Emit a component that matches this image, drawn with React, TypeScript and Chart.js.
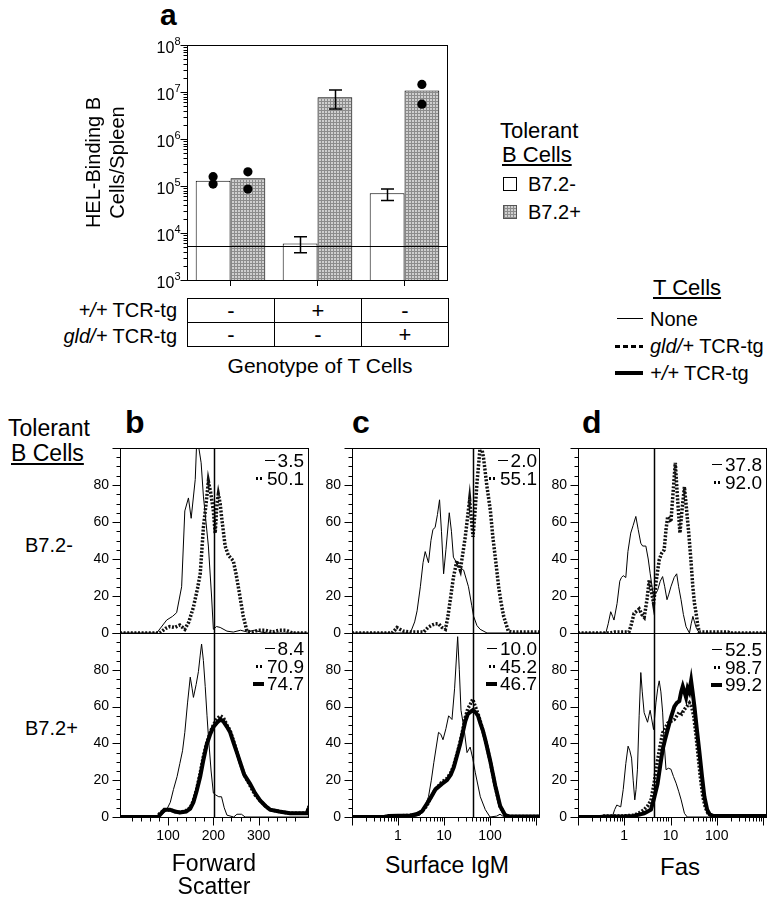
import React, { useEffect, useRef } from 'react';
import { Chart, registerables } from 'chart.js';

Chart.register(...registerables);

const FONT = "'Liberation Sans', Arial, Helvetica, sans-serif";

// ---------------- Panel a ----------------
const A_CATEGORIES = ['None', '+/+ TCR-tg', 'gld/+ TCR-tg'];
const A_SERIES_LABELS = ['B7.2-', 'B7.2+'];
const A_B72_NEG = [1.3e5, 6.0e3, 7.0e4];
const A_B72_POS = [1.46e5, 7.7e6, 1.07e7];
const A_NEG_ERR_LOW: (number | null)[] = [null, 3.8e3, 4.9e4];
const A_NEG_ERR_HIGH: (number | null)[] = [null, 8.3e3, 8.6e4];
const A_POS_ERR_LOW: (number | null)[] = [null, 4.35e6, null];
const A_POS_ERR_HIGH: (number | null)[] = [null, 1.1e7, null];
const A_NEG_DOTS: number[][] = [[1.58e5, 1.1e5], [], []];
const A_POS_DOTS: number[][] = [[2.0e5, 8.6e4], [], [1.45e7, 5.5e6]];
const A_BACKGROUND = 5.4e3;
const A_Y_MIN = 1e3;
const A_Y_MAX = 1e8;
const A_Y_TITLE = ['HEL-Binding B', 'Cells/Spleen'];

const TABLE_ROW_GENOTYPES = ['+/+', 'gld/+'];
const TABLE_ROWS = [
  ['-', '+', '-'],
  ['-', '-', '+'],
];

// ---------------- Histograms (x, % of max) ----------------
const FSC_NEG_NONE: [number, number][] = [[-6, 0], [75, 0], [97, 7], [110, 9], [119, 11], [130, 25], [137, 66], [145, 73], [151, 62], [160, 83], [163, 102], [168, 100], [173, 92], [178, 74], [189, 47], [196, 20], [200, 2], [207, 3.5], [215, 3], [230, 1], [244, 0.5], [260, 1.5], [275, 0.5], [290, 1.5], [305, 0.5], [320, 0], [411, 0]];
const FSC_NEG_GLD: [number, number][] = [[-6, 0], [82, 0], [95, 2.5], [104, 3.5], [115, 3], [126, 4.3], [137, 2], [146, 6], [156, 14], [165, 24], [171, 32], [178, 57], [184, 70], [189, 82], [194, 76], [200, 66], [204, 54], [208, 70], [211, 75], [215, 70], [218, 63], [226, 47], [233, 42], [244, 39], [250, 32], [255, 25], [266, 9], [274, 1], [285, 0.5], [300, 1.5], [315, 1.5], [330, 0.5], [345, 1.5], [360, 1.5], [375, 0], [411, 0]];
const FSC_POS_NONE: [number, number][] = [[-6, 0], [75, 0], [90, 2], [97, 4], [105, 8], [112, 15], [120, 22], [126, 29], [132, 36], [137, 46], [143, 62], [149, 76], [153, 70], [156, 65], [162, 72], [167, 79], [171, 88], [174, 94], [178, 85], [182, 71], [186, 55], [189, 44], [195, 25], [200, 13], [205, 12], [212, 11], [218, 11], [224, 5], [230, 1], [245, 0], [252, 1.5], [262, 1.5], [270, 0], [411, 0]];
const FSC_POS_GLD: [number, number][] = [[-6, 0], [75, 0], [82, 2], [90, 3.5], [104, 4], [115, 3], [126, 2.5], [140, 3.5], [149, 5], [156, 9], [163, 15], [171, 24], [178, 33], [185, 40], [193, 46], [200, 50], [207, 53], [215, 55], [222, 54], [230, 50], [237, 47], [245, 41], [252, 35], [260, 29], [268, 23], [281, 17], [292, 12], [303, 9], [315, 6], [325, 4], [345, 3], [369, 2], [390, 2], [406, 2], [411, 6]];
const FSC_POS_WT: [number, number][] = [[-6, 0], [78, 0], [85, 2], [92, 4], [104, 4], [115, 3], [126, 2.5], [140, 3], [149, 4.5], [156, 8], [163, 14], [171, 22], [178, 31], [185, 39], [193, 45], [200, 49], [207, 51], [215, 53], [222, 52], [230, 49], [237, 46], [245, 40], [252, 35], [260, 29], [268, 23], [281, 18], [292, 13], [303, 9], [315, 6], [325, 4], [345, 3], [369, 2], [390, 2], [406, 2], [411, 5]];

const IGM_NEG_NONE: [number, number][] = [[0.1, 0], [1.85, 0], [2.3, 6], [2.6, 12], [3.06, 25], [3.5, 38], [3.9, 44], [4.6, 38], [5.2, 50], [5.75, 56], [6.4, 57], [7.2, 64], [8.0, 72], [8.8, 55], [9.8, 32], [11, 45], [13, 65], [14.5, 55], [16, 41], [20.8, 36], [26.7, 34], [34, 25], [40, 15], [44, 9], [52, 4], [61, 2], [86, 0], [1220, 0]];
const IGM_NEG_GLD: [number, number][] = [[0.1, 0], [0.74, 0], [0.85, 1.5], [0.95, 3], [1.1, 2], [1.32, 1], [1.85, 0.5], [3.6, 0.5], [4.5, 3], [5.5, 4.3], [6.5, 5], [7.6, 5], [9, 3], [10.7, 2], [12, 8], [13.7, 18], [16, 30], [19, 39], [22.6, 34], [26, 44], [29, 52], [36, 72], [42.7, 52], [48, 68], [52, 81], [57, 92], [61.5, 102], [66, 100], [72, 95], [85, 80], [102, 66], [115, 52], [130, 41], [154, 25], [175, 16], [198, 9], [250, 1], [300, 0.5], [1220, 0.5]];
const IGM_POS_NONE: [number, number][] = [[0.1, 0], [2, 0], [3, 1], [3.6, 4], [4.6, 11], [5.3, 20], [6, 29.5], [7.6, 46], [8.5, 45], [9.5, 42], [11, 48], [12.6, 55], [14.9, 53], [17, 70], [19.8, 98], [21.5, 80], [23.4, 58], [27.6, 47], [31.6, 35], [37, 38], [42, 32], [48, 24], [61.5, 11], [79, 4], [100, 0], [140, 0.5], [165, 1.5], [190, 0.5], [250, 0], [1220, 0]];
const IGM_POS_GLD: [number, number][] = [[0.1, 0], [0.5, 0], [0.63, 0.5], [1, 0.7], [1.85, 0.8], [2.5, 1.5], [3.3, 3], [4.2, 6], [5, 10], [6.5, 15], [9, 19], [11.6, 21], [14, 24], [16.3, 28], [19, 34], [22.6, 41], [29, 54], [33, 59], [37, 61], [42, 64], [48, 60], [55, 56], [61.5, 52], [70, 47], [79, 42], [100, 31], [130, 16.5], [166, 5.6], [213, 1], [260, 0.3], [1220, 0.3]];
const IGM_POS_WT: [number, number][] = [[0.1, 0], [0.5, 0], [0.63, 0.5], [1, 0.7], [1.85, 0.8], [2.5, 1.5], [3.3, 3], [4.2, 7], [5, 10], [6.5, 15], [9, 18], [11.6, 20], [14, 23], [16.3, 27], [19, 33], [22.6, 40], [29, 52], [33, 56], [37, 57], [42, 58], [48, 57], [55, 55], [61.5, 51], [70, 47], [79, 42], [100, 31], [130, 17], [166, 6], [213, 1], [260, 0.3], [1220, 0.3]];

const FAS_NEG_NONE: [number, number][] = [[0.1, 0], [0.4, 0], [0.45, 5], [0.51, 11.5], [0.56, 9], [0.6, 7], [0.7, 16], [0.8, 28], [0.87, 30], [0.95, 31], [1.08, 30], [1.2, 44], [1.38, 54], [1.55, 58], [1.78, 63], [2.0, 56], [2.28, 48.5], [2.5, 47], [2.93, 47], [3.3, 40], [3.64, 32], [4.3, 19.6], [4.7, 21], [5.25, 23], [6.0, 28], [6.75, 30.5], [7.5, 25], [8.4, 18], [9.2, 21], [10.2, 25], [12, 30], [13.6, 32], [15, 25], [16.9, 18], [19, 10], [21.7, 3.4], [25.7, 0], [28, 5], [30.5, 9], [33, 6], [35.8, 3], [42, 0], [1220, 0]];
const FAS_NEG_GLD: [number, number][] = [[0.1, 0], [0.5, 0], [0.62, 0.5], [1.26, 0.5], [1.4, 4], [1.63, 10.6], [2.1, 13], [2.4, 10], [2.7, 8.5], [3.1, 18], [3.47, 28.6], [3.9, 22], [4.3, 16], [4.9, 28], [5.7, 39.5], [6.4, 43], [7.3, 45], [8.0, 56], [8.7, 63], [10.2, 60], [11.3, 75], [12.7, 92], [14, 75], [16, 54], [18, 68], [20, 79], [22, 68], [24.8, 54], [27.5, 40], [30.4, 25], [33, 16], [35.8, 10.6], [39, 4], [42, 0.5], [100, 0.5], [175, 0.5], [190, 0], [1220, 0]];
const FAS_POS_NONE: [number, number][] = [[0.1, 0], [0.55, 0], [0.62, 4], [0.69, 6.5], [0.76, 6], [0.84, 5.5], [0.95, 15], [1.08, 29], [1.21, 38.5], [1.32, 36], [1.44, 32], [1.56, 20], [1.69, 9.3], [1.8, 15], [1.93, 26], [2.1, 55], [2.28, 78.5], [2.45, 68], [2.69, 56.7], [3.19, 51.5], [3.4, 55], [3.63, 58], [4.3, 47.5], [4.84, 62], [5.3, 70], [5.7, 74], [6.2, 68], [6.76, 57], [7.3, 40], [8, 25.7], [9, 26.5], [10.2, 26], [11.6, 22], [13.2, 18.4], [15, 14], [17, 9.3], [20, 2], [23, 0], [1220, 0]];
const FAS_POS_GLD: [number, number][] = [[0.1, 0], [0.3, 0], [0.36, 0.5], [1.0, 0.6], [1.63, 1], [2.2, 2.5], [2.69, 4], [3.2, 6], [3.77, 9], [4.4, 18], [5.25, 31], [6.0, 39], [6.76, 45.7], [7.6, 48], [8.7, 51], [10.2, 52], [12.1, 53], [13.7, 55], [15.5, 57], [17.5, 56], [20, 58.5], [22.5, 60], [25.7, 62], [28.5, 60], [31.7, 55], [35, 46], [38.9, 35], [44, 22], [50, 11], [57, 5], [64.5, 2], [80, 0.6], [1220, 0.6]];
const FAS_POS_WT: [number, number][] = [[0.1, 0], [0.3, 0], [0.4, 0.3], [1.0, 0.4], [1.63, 0.6], [2.69, 2], [3.2, 3], [3.77, 4], [4.4, 10], [5.25, 18], [6.0, 28], [6.76, 36.6], [7.6, 42], [8.7, 47.5], [10.2, 54], [12.1, 60], [13.7, 62], [15.5, 63], [17, 68], [18.4, 71], [20, 68], [21.7, 65], [23.5, 70], [25.5, 68], [27.9, 74], [30, 68], [32.9, 60], [37, 48], [42.3, 35], [48, 22], [54, 11], [62, 4], [70, 1.5], [85, 0.5], [1220, 0.5]];

const FSC_NEG_PCT = ['3.5', '50.1'];
const FSC_POS_PCT = ['8.4', '70.9', '74.7'];
const IGM_NEG_PCT = ['2.0', '55.1'];
const IGM_POS_PCT = ['10.0', '45.2', '46.7'];
const FAS_NEG_PCT = ['37.8', '92.0'];
const FAS_POS_PCT = ['52.5', '98.7', '99.2'];

const FSC_GATE = 202;
const IGM_GATE = 43;
const FAS_GATE = 4.3;

const HIST_Y_LABELS = [0, 20, 40, 60, 80];
const FSC_X_LABELS = [100, 200, 300];
const LOG_X_LABELS = [1, 10, 100];

type LineStyle = 'none' | 'gld' | 'wt';

const LINE_STYLES: Record<LineStyle, any> = {
  none: { borderWidth: 1, borderColor: '#000', borderDash: [] },
  gld: { borderWidth: 3.5, borderColor: '#111', borderDash: [2, 1.6] },
  wt: { borderWidth: 4, borderColor: '#000', borderDash: [] },
};

const near = (a: number, b: number) => Math.abs(a - b) < 1e-6 * Math.max(1, Math.abs(b));
const isDecade = (v: number) => {
  const lg = Math.log10(v);
  return Math.abs(lg - Math.round(lg)) < 1e-6;
};
const isLogStep = (v: number) => {
  const s = v / Math.pow(10, Math.floor(Math.log10(v) + 1e-9));
  return Math.abs(s - Math.round(s)) < 1e-6;
};

function makePattern(): CanvasPattern | string {
  const c = document.createElement('canvas');
  c.width = 3;
  c.height = 3;
  const g = c.getContext('2d');
  if (!g) return '#aaa';
  g.fillStyle = '#cfcfcf';
  g.fillRect(0, 0, 3, 3);
  g.fillStyle = '#8c8c8c';
  g.fillRect(0, 0, 3, 1);
  g.fillRect(0, 0, 1, 3);
  const p = g.createPattern(c, 'repeat');
  return p || '#aaa';
}

function aConfig(): any {
  const pattern = makePattern();
  const decor = {
    id: 'aDecor',
    afterDatasetsDraw(chart: any) {
      const { ctx, chartArea: a, scales } = chart;
      const y = scales.y;
      ctx.save();
      ctx.strokeStyle = '#000';
      // background level line
      ctx.lineWidth = 1.2;
      const by = Math.round(y.getPixelForValue(A_BACKGROUND)) + 0.5;
      ctx.beginPath();
      ctx.moveTo(a.left, by);
      ctx.lineTo(a.right, by);
      ctx.stroke();
      // error bars
      const errs = [
        [A_NEG_ERR_LOW, A_NEG_ERR_HIGH],
        [A_POS_ERR_LOW, A_POS_ERR_HIGH],
      ];
      ctx.lineWidth = 1.5;
      errs.forEach(([lo, hi], di) => {
        const meta = chart.getDatasetMeta(di);
        lo.forEach((l, j) => {
          const h = hi[j];
          if (l == null || h == null) return;
          const cx = Math.round(meta.data[j].x) + 0.5;
          const yl = y.getPixelForValue(l);
          const yh = y.getPixelForValue(h);
          ctx.beginPath();
          ctx.moveTo(cx, yl);
          ctx.lineTo(cx, yh);
          ctx.moveTo(cx - 6.5, yl);
          ctx.lineTo(cx + 6.5, yl);
          ctx.moveTo(cx - 6.5, yh);
          ctx.lineTo(cx + 6.5, yh);
          ctx.stroke();
        });
      });
      // individual points
      ctx.fillStyle = '#000';
      [A_NEG_DOTS, A_POS_DOTS].forEach((dots, di) => {
        const meta = chart.getDatasetMeta(di);
        dots.forEach((vals, j) => {
          vals.forEach((v) => {
            ctx.beginPath();
            ctx.arc(meta.data[j].x, y.getPixelForValue(v), 4.6, 0, Math.PI * 2);
            ctx.fill();
          });
        });
      });
      ctx.restore();
    },
    afterDraw(chart: any) {
      const { ctx, chartArea: a, scales } = chart;
      const y = scales.y;
      ctx.save();
      ctx.strokeStyle = '#000';
      ctx.lineWidth = 1;
      const l = Math.round(a.left) + 0.5;
      const r = Math.round(a.right) - 0.5;
      const t = Math.round(a.top) + 0.5;
      const b = Math.round(a.bottom) + 0.5;
      ctx.strokeRect(l, t, r - l, b - t);
      ctx.fillStyle = '#000';
      y.ticks.forEach((tk: any) => {
        const v = tk.value;
        if (v < A_Y_MIN - 1e-9 || v > A_Y_MAX * (1 + 1e-9)) return;
        const major = isDecade(v);
        if (!major && !isLogStep(v)) return;
        const py = Math.round(y.getPixelForValue(v)) + 0.5;
        const len = major ? 7 : 4;
        ctx.beginPath();
        ctx.moveTo(l - len, py);
        ctx.lineTo(l, py);
        ctx.stroke();
        if (major) {
          const exp = String(Math.round(Math.log10(v)));
          ctx.textAlign = 'right';
          ctx.textBaseline = 'middle';
          ctx.font = `11px ${FONT}`;
          const ew = ctx.measureText(exp).width;
          const xr = l - 7;
          ctx.fillText(exp, xr, py - 4);
          ctx.font = `16px ${FONT}`;
          ctx.fillText('10', xr - ew, py + 3);
        }
      });
      ctx.restore();
    },
  };
  return {
    type: 'bar',
    data: {
      labels: A_CATEGORIES,
      datasets: [
        { label: A_SERIES_LABELS[0], data: A_B72_NEG, backgroundColor: '#fff', borderColor: '#000', borderWidth: 1, categoryPercentage: 0.8, barPercentage: 1 },
        { label: A_SERIES_LABELS[1], data: A_B72_POS, backgroundColor: pattern, borderColor: '#000', borderWidth: 1, categoryPercentage: 0.8, barPercentage: 1 },
      ],
    },
    options: {
      animation: false,
      responsive: false,
      events: [],
      layout: { padding: { top: 25, right: 12, bottom: 0, left: 0 } },
      plugins: { legend: { display: false }, tooltip: { enabled: false } },
      scales: {
        x: {
          grid: { display: true, drawOnChartArea: false, drawTicks: true, tickLength: 6, color: '#000', offset: false },
          border: { display: false },
          ticks: { display: false },
          afterFit: (s: any) => {
            s.height = 15;
            s.paddingLeft = 0;
            s.paddingRight = 0;
          },
        },
        y: {
          type: 'logarithmic',
          min: A_Y_MIN,
          max: A_Y_MAX,
          grid: { display: false },
          border: { display: false },
          ticks: { display: false },
          title: { display: true, text: A_Y_TITLE, color: '#000', font: { family: FONT, size: 20 }, padding: { top: 22, bottom: 0 } },
          afterFit: (s: any) => {
            s.width = 127;
            s.paddingTop = 0;
            s.paddingBottom = 0;
          },
        },
      },
    },
    plugins: [decor],
  };
}

type Series = { data: [number, number][]; style: LineStyle };

function histConfig(kind: 'fsc' | 'log', series: Series[], bottom: boolean, gate: number): any {
  const isLog = kind === 'log';
  const xMin = isLog ? 0.1 : -6;
  const xMax = isLog ? 1220 : 411;
  const xLabels = isLog ? LOG_X_LABELS : FSC_X_LABELS;
  const isMajorX = (v: number) => (isLog ? isDecade(v) : Math.abs(v % 100) < 1e-6);
  const isMinorX = (v: number) => (isLog ? isLogStep(v) : Math.abs(v % 20) < 1e-6);
  const decor = {
    id: 'histDecor',
    afterDatasetsDraw(chart: any) {
      const { ctx, chartArea: a, scales } = chart;
      const x = scales.x;
      const y = scales.y;
      ctx.save();
      ctx.strokeStyle = '#000';
      ctx.lineWidth = 1;
      const l = Math.round(a.left) + 0.5;
      const r = Math.round(a.right) - 0.5;
      const t = Math.round(a.top) + 0.5;
      const b = Math.round(a.bottom) + 0.5;
      ctx.strokeRect(l, t, r - l, b - t);
      // gate line
      ctx.lineWidth = 1.5;
      const gx = Math.round(x.getPixelForValue(gate)) + 0.5;
      ctx.beginPath();
      ctx.moveTo(gx, t);
      ctx.lineTo(gx, b);
      ctx.stroke();
      ctx.lineWidth = 1;
      // y ticks
      y.ticks.forEach((tk: any) => {
        const v = tk.value;
        if (Math.abs(v % 5) > 1e-6) return;
        const py = Math.round(y.getPixelForValue(v)) + 0.5;
        const len = Math.abs(v % 20) < 1e-6 ? 8 : 4;
        ctx.beginPath();
        ctx.moveTo(l - len, py);
        ctx.lineTo(l, py);
        ctx.stroke();
      });
      if (bottom) {
        x.ticks.forEach((tk: any) => {
          const v = tk.value;
          if (v < xMin - 1e-9 || v > xMax) return;
          let len = 0;
          if (isMajorX(v)) len = 8;
          else if (isMinorX(v)) len = 4;
          if (!len) return;
          const px = Math.round(x.getPixelForValue(v)) + 0.5;
          ctx.beginPath();
          ctx.moveTo(px, b);
          ctx.lineTo(px, b + len);
          ctx.stroke();
        });
      }
      ctx.restore();
    },
  };
  const xScale: any = {
    type: isLog ? 'logarithmic' : 'linear',
    min: xMin,
    max: xMax,
    display: bottom,
    grid: { display: false, drawTicks: false },
    border: { display: false },
    ticks: {
      autoSkip: false,
      maxRotation: 0,
      padding: 11,
      color: '#000',
      font: { family: FONT, size: 14 },
      callback: (v: number) => {
        const hit = xLabels.find((lv) => near(v, lv));
        return hit !== undefined ? String(hit) : '';
      },
    },
  };
  if (!isLog) xScale.ticks.stepSize = 20;
  if (bottom) {
    xScale.afterFit = (s: any) => {
      s.height = 30;
      s.paddingLeft = 0;
      s.paddingRight = 0;
    };
  }
  return {
    type: 'line',
    data: {
      datasets: series.map((s) => ({
        data: s.data.map(([x, y]) => ({ x, y })),
        ...LINE_STYLES[s.style],
        pointRadius: 0,
        tension: 0,
        fill: false,
      })),
    },
    options: {
      animation: false,
      responsive: false,
      events: [],
      layout: { padding: { top: 2, right: 2, bottom: bottom ? 0 : 9, left: 0 } },
      plugins: { legend: { display: false }, tooltip: { enabled: false } },
      scales: {
        x: xScale,
        y: {
          min: 0,
          max: 100,
          grid: { display: false, drawTicks: false },
          border: { display: false },
          ticks: {
            stepSize: 5,
            autoSkip: false,
            padding: 11,
            color: '#000',
            font: { family: FONT, size: 14 },
            callback: (v: number) => (HIST_Y_LABELS.some((lv) => near(v, lv)) ? String(v) : ''),
          },
          afterFit: (s: any) => {
            s.width = 45;
            s.paddingTop = 0;
            s.paddingBottom = 0;
          },
        },
      },
    },
    plugins: [decor],
  };
}

function ChartCanvas({ left, top, width, height, make }: { left: number; top: number; width: number; height: number; make: () => any }) {
  const ref = useRef<HTMLCanvasElement>(null);
  useEffect(() => {
    const chart = new Chart(ref.current as HTMLCanvasElement, make());
    return () => chart.destroy();
  }, []);
  return <canvas ref={ref} width={width} height={height} style={{ position: 'absolute', left, top, width, height }} />;
}

function Sample({ style }: { style: LineStyle }) {
  if (style === 'none') return <span style={{ display: 'inline-block', width: 10, height: 1, background: '#000' }} />;
  if (style === 'gld')
    return <span style={{ display: 'inline-block', width: 8, height: 3, background: 'repeating-linear-gradient(90deg, #000 0 2px, transparent 2px 4px)' }} />;
  return <span style={{ display: 'inline-block', width: 11, height: 4, background: '#000' }} />;
}

function Annot({ right, top, styles, values }: { right: number; top: number; styles: LineStyle[]; values: string[] }) {
  return (
    <div style={{ position: 'absolute', left: right - 90, top, width: 90, fontSize: 19 }}>
      {values.map((v, i) => (
        <div key={i} style={{ display: 'flex', justifyContent: 'flex-end', alignItems: 'center', height: 17.5, lineHeight: '17.5px' }}>
          <Sample style={styles[i]} />
          <span style={{ marginLeft: 3 }}>{v}</span>
        </div>
      ))}
    </div>
  );
}

function Txt({ left, top, size, children, style }: { left: number; top: number; size: number; children: any; style?: any }) {
  return (
    <div style={{ position: 'absolute', left, top, fontSize: size, lineHeight: 1, whiteSpace: 'nowrap', ...style }}>{children}</div>
  );
}

const COLS = [
  { L: 120, R: 309, kind: 'fsc' as const, gate: FSC_GATE },
  { L: 352, R: 540, kind: 'log' as const, gate: IGM_GATE },
  { L: 578, R: 767, kind: 'log' as const, gate: FAS_GATE },
];

const CELLS: { col: number; bottom: boolean; series: Series[]; pct: string[] }[] = [
  { col: 0, bottom: false, series: [{ data: FSC_NEG_GLD, style: 'gld' }, { data: FSC_NEG_NONE, style: 'none' }], pct: FSC_NEG_PCT },
  { col: 0, bottom: true, series: [{ data: FSC_POS_WT, style: 'wt' }, { data: FSC_POS_GLD, style: 'gld' }, { data: FSC_POS_NONE, style: 'none' }], pct: FSC_POS_PCT },
  { col: 1, bottom: false, series: [{ data: IGM_NEG_GLD, style: 'gld' }, { data: IGM_NEG_NONE, style: 'none' }], pct: IGM_NEG_PCT },
  { col: 1, bottom: true, series: [{ data: IGM_POS_WT, style: 'wt' }, { data: IGM_POS_GLD, style: 'gld' }, { data: IGM_POS_NONE, style: 'none' }], pct: IGM_POS_PCT },
  { col: 2, bottom: false, series: [{ data: FAS_NEG_GLD, style: 'gld' }, { data: FAS_NEG_NONE, style: 'none' }], pct: FAS_NEG_PCT },
  { col: 2, bottom: true, series: [{ data: FAS_POS_WT, style: 'wt' }, { data: FAS_POS_GLD, style: 'gld' }, { data: FAS_POS_NONE, style: 'none' }], pct: FAS_POS_PCT },
];

const ANNOT_POS = [
  { right: 304, topTop: 452, topBottom: 640 },
  { right: 537, topTop: 452, topBottom: 640 },
  { right: 762, topTop: 456, topBottom: 641 },
];

export default function App() {
  return (
    <div style={{ position: 'absolute', left: 0, top: 0, width: 770, height: 900, background: '#fff', color: '#000', fontFamily: FONT, overflow: 'hidden' }}>
      {/* Panel a */}
      <Txt left={160} top={0} size={30} style={{ fontWeight: 'bold' }}>a</Txt>
      <ChartCanvas left={60} top={20} width={400} height={275} make={aConfig} />

      {/* genotype table */}
      {TABLE_ROW_GENOTYPES.map((g, i) => (
        <div key={g} style={{ position: 'absolute', left: 0, width: 177, top: 300 + i * 26, fontSize: 20, lineHeight: 1, textAlign: 'right', whiteSpace: 'nowrap' }}>
          <i>{g}</i> TCR-tg
        </div>
      ))}
      {TABLE_ROWS.map((row, i) =>
        row.map((cell, j) => (
          <div
            key={`${i}-${j}`}
            style={{
              position: 'absolute',
              left: 187 + j * 87,
              top: 298 + i * 24,
              width: 88,
              height: 25,
              border: '1px solid #000',
              boxSizing: 'border-box',
              fontSize: 22,
              lineHeight: '23px',
              textAlign: 'center',
            }}
          >
            {cell}
          </div>
        ))
      )}
      <div style={{ position: 'absolute', left: 187, width: 266, top: 355, fontSize: 21, lineHeight: 1, textAlign: 'center', whiteSpace: 'nowrap' }}>Genotype of T Cells</div>

      {/* legend: tolerant B cells */}
      <Txt left={500} top={120} size={22}>Tolerant</Txt>
      <Txt left={502} top={144} size={22} style={{ textDecoration: 'underline' }}>B Cells</Txt>
      <div style={{ position: 'absolute', left: 503, top: 177, width: 14, height: 14, border: '1px solid #000', boxSizing: 'border-box', background: '#fff' }} />
      <Txt left={528} top={174} size={20}>{A_SERIES_LABELS[0]}</Txt>
      <div
        style={{
          position: 'absolute',
          left: 503,
          top: 205,
          width: 14,
          height: 14,
          border: '1px solid #555',
          boxSizing: 'border-box',
          background: 'repeating-linear-gradient(0deg, #8c8c8c 0 1px, transparent 1px 3px), repeating-linear-gradient(90deg, #8c8c8c 0 1px, #cfcfcf 1px 3px)',
        }}
      />
      <Txt left={528} top={202} size={20}>{A_SERIES_LABELS[1]}</Txt>

      {/* legend: T cells */}
      <Txt left={653} top={277} size={22} style={{ textDecoration: 'underline' }}>T Cells</Txt>
      <div style={{ position: 'absolute', left: 617, top: 318, width: 26, height: 1, background: '#000' }} />
      <Txt left={650} top={309} size={20}>None</Txt>
      <div style={{ position: 'absolute', left: 615, top: 345, width: 28, height: 3, background: 'repeating-linear-gradient(90deg, #000 0 5px, transparent 5px 8px)' }} />
      <Txt left={650} top={336} size={20}><i>gld/+</i> TCR-tg</Txt>
      <div style={{ position: 'absolute', left: 615, top: 371, width: 28, height: 4, background: '#000' }} />
      <Txt left={650} top={363} size={20}><i>+/+</i> TCR-tg</Txt>

      {/* panels b, c, d */}
      <Txt left={8} top={417} size={23}>Tolerant</Txt>
      <Txt left={11} top={442} size={23} style={{ textDecoration: 'underline' }}>B Cells</Txt>
      <Txt left={25} top={535} size={20}>{A_SERIES_LABELS[0]}</Txt>
      <Txt left={25} top={718} size={20}>{A_SERIES_LABELS[1]}</Txt>
      <Txt left={125} top={406} size={32} style={{ fontWeight: 'bold' }}>b</Txt>
      <Txt left={352} top={406} size={32} style={{ fontWeight: 'bold' }}>c</Txt>
      <Txt left={582} top={406} size={32} style={{ fontWeight: 'bold' }}>d</Txt>

      {CELLS.map((c, i) => {
        const col = COLS[c.col];
        const left = col.L - 45;
        const width = col.R - col.L + 47;
        const top = c.bottom ? 631 : 446;
        const height = c.bottom ? 216 : 196;
        return <ChartCanvas key={i} left={left} top={top} width={width} height={height} make={() => histConfig(col.kind, c.series, c.bottom, col.gate)} />;
      })}
      {CELLS.map((c, i) => {
        const p = ANNOT_POS[c.col];
        const styles: LineStyle[] = c.bottom ? ['none', 'gld', 'wt'] : ['none', 'gld'];
        return <Annot key={`a${i}`} right={p.right} top={c.bottom ? p.topBottom : p.topTop} styles={styles} values={c.pct} />;
      })}

      <div style={{ position: 'absolute', left: 114, width: 200, top: 852, fontSize: 23, lineHeight: '23px', textAlign: 'center' }}>
        Forward
        <br />
        Scatter
      </div>
      <div style={{ position: 'absolute', left: 347, width: 200, top: 854, fontSize: 23, lineHeight: 1, textAlign: 'center' }}>Surface IgM</div>
      <div style={{ position: 'absolute', left: 580, width: 200, top: 855, fontSize: 24, lineHeight: 1, textAlign: 'center' }}>Fas</div>
    </div>
  );
}
